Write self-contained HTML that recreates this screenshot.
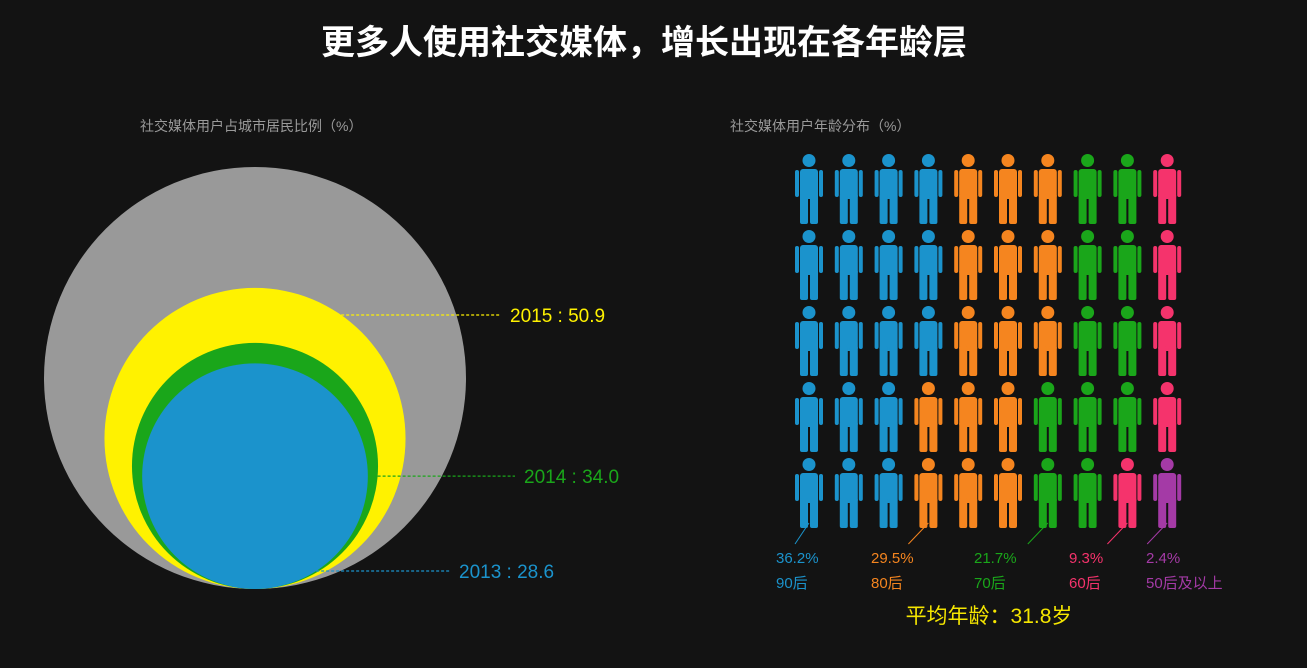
<!DOCTYPE html>
<html><head><meta charset="utf-8">
<style>
html,body{margin:0;padding:0;background:#131313;}
body{width:1307px;height:668px;overflow:hidden;position:relative;font-family:"Liberation Sans","Noto Sans CJK SC",sans-serif;}
</style></head>
<body>
<svg id="chart" width="1307" height="668" xmlns="http://www.w3.org/2000/svg" style="position:absolute;left:0;top:0">
<text x="644" y="54" text-anchor="middle" fill="#fff" font-size="34" font-weight="bold" font-family="Liberation Sans, Noto Sans CJK SC, sans-serif">更多人使用社交媒体，增长出现在各年龄层</text>
<text x="140" y="131" fill="#9a9a9a" font-size="14" font-family="Liberation Sans, Noto Sans CJK SC, sans-serif">社交媒体用户占城市居民比例（%）</text>
<text x="730" y="131" fill="#9a9a9a" font-size="14" font-family="Liberation Sans, Noto Sans CJK SC, sans-serif">社交媒体用户年龄分布（%）</text>
<g id="circles"></g>
<g id="people"></g>
<g id="ageLabels"></g>
<text x="989" y="623" text-anchor="middle" fill="#f5e600" font-size="21" font-family="Liberation Sans, Noto Sans CJK SC, sans-serif">平均年龄：31.8岁</text>
</svg>
<script>
const years = ["2015","2014","2013"];
const yearValues = [50.9, 34.0, 28.6];
const yearColors = ["#fff200","#1aa61a","#1b93cc"];
const ageGroups = ["90后","80后","70后","60后","50后及以上"];
const agePercents = [36.2, 29.5, 21.7, 9.3, 2.4];
const ageColors = ["#1b93cc","#f5851f","#1aa61a","#f5336c","#a43aa6"];

const NS="http://www.w3.org/2000/svg";
function mk(tag,attrs,parent){const e=document.createElementNS(NS,tag);for(const k in attrs)e.setAttribute(k,attrs[k]);parent.appendChild(e);return e;}

// circles: area proportional, bottom-aligned
const R=211, cx=255, bottom=589;
const rOf=v=>R*Math.sqrt(v/100);
const cg=document.getElementById('circles');
const base=mk('circle',{cx:cx,cy:bottom-R,r:R,fill:'#999999'},cg);


const labelYOffsets=[0.27,1,1.9];
yearValues.forEach((v,i)=>{
  const r=rOf(v);
  const c=mk('circle',{cx:cx,cy:bottom-r,r:r,fill:yearColors[i]},cg);
  
  
});
// leader lines & labels
yearValues.forEach((v,i)=>{
  const r=rOf(v), cy=bottom-r;
  let y,x0,x1,tx;
  if(i===0){y=cy-r*0.82;x0=cx+Math.sqrt(Math.max(0,r*r-(y-cy)*(y-cy)));x1=500;tx=510;}
  else if(i===1){y=cy-(rOf(yearValues[2])-r)-0 ; y=cy+ (bottom-rOf(yearValues[2])-cy); x0=cx+Math.sqrt(Math.max(0,r*r-(y-cy)*(y-cy)));x1=515;tx=524;}
  else {y=bottom-18;x0=cx+Math.sqrt(Math.max(0,r*r-(y-cy)*(y-cy)));x1=450;tx=459;}
  const l=mk('line',{x1:x0,y1:y,x2:x1,y2:y,stroke:yearColors[i],'stroke-width':1.2,'stroke-dasharray':'3,2'},cg);
  
  
  const t=mk('text',{x:tx,y:y+7,fill:yearColors[i],'font-size':19,'font-family':'Liberation Sans, sans-serif'},cg);
  t.textContent=years[i]+' : '+v.toFixed(1);
  
  
});

// people grid: 50 figures, column-major top-down
const total=50, cols=10, rows=5;
const raw=agePercents.map(p=>p/100*total);
const counts=raw.map(Math.floor);
let rem=total-counts.reduce((a,b)=>a+b,0);
raw.map((v,i)=>[v-Math.floor(v),i]).sort((a,b)=>b[0]-a[0]).forEach(([f,i])=>{if(rem>0){counts[i]++;rem--;}});
const assign=[];counts.forEach((c,i)=>{for(let k=0;k<c;k++)assign.push(i);});
while(assign.length<total)assign.push(ageColors.length-1);
const pg=document.getElementById('people');
const colX=c=>809+c*39.8, rowY=r=>154+r*76;
function person(x,y,color,parent){
  const g=mk('g',{fill:color},parent);
  mk('circle',{cx:x,cy:y+6.5,r:6.5},g);
  mk('rect',{x:x-9,y:y+15,width:18,height:30,rx:3},g);
  mk('rect',{x:x-14,y:y+16,width:4,height:27,rx:2},g);
  mk('rect',{x:x+10,y:y+16,width:4,height:27,rx:2},g);
  mk('rect',{x:x-9,y:y+40,width:8,height:30,rx:2},g);
  mk('rect',{x:x+1,y:y+40,width:8,height:30,rx:2},g);
  return g;
}
const lastIdx={};
for(let i=0;i<total;i++){
  const c=Math.floor(i/rows), r=i%rows;
  const g=person(colX(c),rowY(r),ageColors[assign[i]],pg);
  
  
}
// labels
const lg=document.getElementById('ageLabels');
const labelX=[776,871,974,1069,1146];
const anchorCol=[0,3,6,8,9];
agePercents.forEach((p,i)=>{
  const ax=colX(anchorCol[i]), ay=523;
  const l=mk('line',{x1:ax,y1:ay,x2:ax-(i===0?14:20),y2:ay+21,stroke:ageColors[i],'stroke-width':1},lg);
  
  
  const t=mk('text',{x:labelX[i],y:563,fill:ageColors[i],'font-size':15,'font-family':'Liberation Sans, Noto Sans CJK SC, sans-serif'},lg);
  t.textContent=p.toFixed(1)+'%';
  
  
  const n=mk('text',{x:labelX[i],y:588,fill:ageColors[i],'font-size':15,'font-family':'Liberation Sans, Noto Sans CJK SC, sans-serif'},lg);
  n.textContent=ageGroups[i];
  
  
});
</script>
</body></html>
